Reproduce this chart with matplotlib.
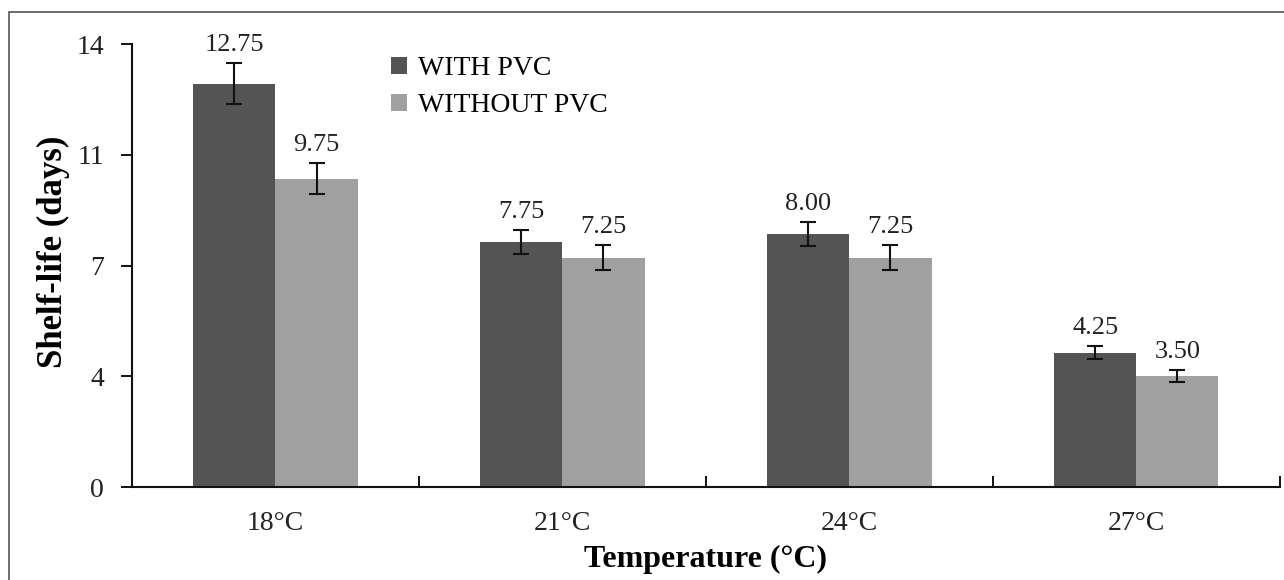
import matplotlib.pyplot as plt
import numpy as np
from matplotlib.patches import Rectangle

temps = ["18°C", "21°C", "24°C", "27°C"]
with_pvc = [12.75, 7.75, 8.00, 4.25]
without_pvc = [9.75, 7.25, 7.25, 3.50]
err_with = [0.65, 0.38, 0.38, 0.21]
err_without = [0.49, 0.40, 0.40, 0.19]
yticks = [0, 3.5, 7, 10.5, 14]

plt.rcParams['font.family'] = ['Liberation Serif', 'DejaVu Serif']

fig = plt.figure(figsize=(12.84, 5.8), dpi=100)
fig.patches.append(Rectangle((9/1284, -0.1), 1.2, 1.1 - 12/580, transform=fig.transFigure,
                             fill=False, edgecolor='#555555', lw=1.2))
ax = fig.add_axes([0.1028, 0.1603, 0.894, 0.7637])

x = np.arange(len(temps))
w = 0.286
ekw = dict(ecolor='#111111', elinewidth=1.5, capsize=6, capthick=1.5)
ax.bar(x - w/2, with_pvc, w, color='#545454', label='WITH PVC', yerr=err_with, error_kw=ekw)
ax.bar(x + w/2, without_pvc, w, color='#a0a0a0', label='WITHOUT PVC', yerr=err_without, error_kw=ekw)

for i in range(len(temps)):
    ax.text(x[i] - w/2, with_pvc[i] + err_with[i] + 0.22, '%.2f' % with_pvc[i],
            ha='center', va='bottom', fontsize=19, color='#222222')
    ax.text(x[i] + w/2, without_pvc[i] + err_without[i] + 0.22, '%.2f' % without_pvc[i],
            ha='center', va='bottom', fontsize=19, color='#222222')

ax.set_xlim(-0.5, 3.5)
ax.set_ylim(0, 14)
ax.set_yticks(yticks)
ax.set_yticklabels(['%.0f' % round(v + 0.01) for v in yticks], fontsize=20, color='#222222')
ax.set_xticks(x)
ax.set_xticklabels(temps, fontsize=20, color='#222222')
ax.set_xticks([-0.5, 0.5, 1.5, 2.5, 3.5], minor=True)
ax.tick_params(axis='x', which='major', length=0, pad=17)
ax.tick_params(axis='x', which='minor', length=8, width=1.3, direction='in')
ax.tick_params(axis='y', length=8, width=1.3, direction='out', pad=12)
for s in ['top', 'right']:
    ax.spines[s].set_visible(False)
for s in ['left', 'bottom']:
    ax.spines[s].set_linewidth(1.5)
    ax.spines[s].set_color('#111111')

ax.set_ylabel('Shelf-life (days)', fontsize=25, fontweight='bold')
ax.yaxis.set_label_coords(-0.054, 0.53)
ax.set_xlabel('Temperature (°C)', fontsize=23, fontweight='bold', labelpad=7)

ax.legend(loc='upper left', bbox_to_anchor=(0.209, 1.017), frameon=False, fontsize=20,
          handlelength=0.55, handleheight=0.55, handletextpad=0.4, labelspacing=0.45,
          borderpad=0.2)

fig.savefig('out.png', dpi=100)
